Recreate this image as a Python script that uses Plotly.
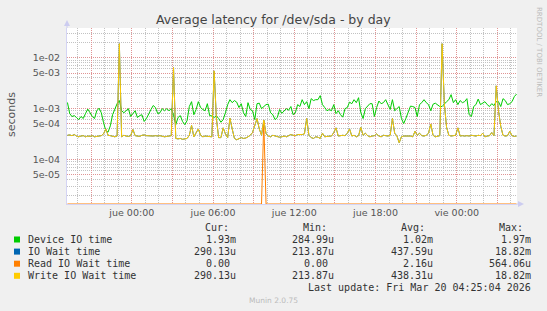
import plotly.graph_objects as go
import pandas as pd

# ---------------- data ----------------
times = pd.date_range("2026-03-18 19:15", periods=200, freq="10min")

device_io = [
    1.32e-3, 8.0e-4, 7.0e-4, 7.3e-4, 6.7e-4, 6.1e-4, 7.0e-4, 6.4e-4, 8.0e-4, 9.8e-4,
    8.3e-4, 7.0e-4, 6.4e-4, 9.1e-4, 1.02e-3, 8.3e-4, 5.3e-4, 3.7e-4, 3.46e-4, 4.6e-4,
    7.6e-4, 1.02e-3, 1.25e-3, 1.44e-3, 9.1e-4, 8.3e-4, 9.1e-4, 1.0e-3, 7.0e-4, 8.0e-4,
    9.1e-4, 6.7e-4, 7.3e-4, 7.6e-4, 5.6e-4, 6.4e-4, 7.6e-4, 9.6e-4, 1.15e-3, 1.05e-3,
    8.0e-4, 8.3e-4, 1.0e-3, 9.1e-4, 1.0e-3, 9.1e-4, 1.0e-3, 7.6e-4, 4.85e-4, 6.7e-4,
    7.3e-4, 5.6e-4, 4.85e-4, 5.8e-4, 1.1e-3, 1.37e-3, 7.6e-4, 9.6e-4, 1.37e-3, 1.05e-3,
    9.6e-4, 9.1e-4, 1.25e-3, 7.3e-4, 7.2e-4, 6.7e-4, 7.2e-4, 6.4e-4, 5.4e-4, 6.1e-4,
    8.3e-4, 1.2e-3, 1.5e-3, 1.31e-3, 1.44e-3, 1.34e-3, 1.05e-3, 1.25e-3, 8.3e-4, 7.0e-4,
    1.31e-3, 9.6e-4, 9.1e-4, 6.1e-4, 1.25e-3, 1.28e-3, 1.0e-3, 1.1e-3, 1.2e-3, 1.22e-3,
    8.3e-4, 7.6e-4, 6.1e-4, 6.7e-4, 9.6e-4, 8.1e-4, 9.1e-4, 1.0e-3, 9.3e-4, 1.1e-3,
    7.6e-4, 8.3e-4, 1.2e-3, 1.1e-3, 1.5e-3, 1.2e-3, 1.37e-3, 1.0e-3, 1.57e-3, 1.44e-3,
    1.5e-3, 1.5e-3, 1.8e-3, 1.2e-3, 1.05e-3, 9.1e-4, 9.6e-4, 9.1e-4, 1.2e-3, 8.0e-4,
    9.1e-4, 7.6e-4, 6.8e-4, 1.0e-3, 1.05e-3, 1.34e-3, 1.25e-3, 1.5e-3, 1.31e-3, 1.64e-3,
    8.3e-4, 6.4e-4, 1.0e-3, 1.1e-3, 1.25e-3, 1.25e-3, 7.0e-4, 1.05e-3, 1.41e-3, 1.25e-3,
    1.31e-3, 1.5e-3, 1.2e-3, 9.6e-4, 1.5e-3, 9.1e-4, 1.0e-3, 1.1e-3, 6.4e-4, 5.1e-4,
    6.5e-4, 8.3e-4, 1.12e-3, 1.1e-3, 1.05e-3, 7.0e-4, 1.2e-3, 1.31e-3, 1.5e-3, 1.31e-3,
    1.2e-3, 9.1e-4, 1.22e-3, 1.28e-3, 1.2e-3, 1.1e-3, 1.1e-3, 1.25e-3, 1.37e-3, 1.5e-3,
    1.88e-3, 1.31e-3, 1.5e-3, 1.2e-3, 1.44e-3, 1.31e-3, 1.37e-3, 1.57e-3, 7.6e-4, 7.0e-4,
    1.1e-3, 1.2e-3, 1.54e-3, 1.2e-3, 1.31e-3, 1.37e-3, 1.2e-3, 1.1e-3, 1.25e-3, 1.15e-3,
    1.37e-3, 1.37e-3, 1.1e-3, 1.57e-3, 1.44e-3, 1.2e-3, 1.25e-3, 1.37e-3, 1.72e-3, 1.93e-3,
]

write_io_wait = [
    3.0e-4, 3.05e-4, 2.95e-4, 3.1e-4, 2.9e-4, 2.8e-4, 2.9e-4, 2.95e-4, 2.8e-4, 2.9e-4,
    2.85e-4, 2.95e-4, 2.8e-4, 2.9e-4, 2.9e-4, 2.95e-4, 3.2e-4, 4.0e-4, 3.0e-4, 2.95e-4,
    2.9e-4, 2.8e-4, 2.9e-4, 1.882e-2, 2.8e-4, 3.0e-4, 2.9e-4, 2.85e-4, 2.95e-4, 3.9e-4,
    2.95e-4, 2.9e-4, 2.85e-4, 3.0e-4, 3.05e-4, 2.95e-4, 2.9e-4, 2.95e-4, 2.9e-4, 2.95e-4,
    2.9e-4, 2.95e-4, 2.85e-4, 2.8e-4, 2.85e-4, 2.9e-4, 2.95e-4, 6.4e-3, 2.6e-4, 2.55e-4,
    2.6e-4, 2.5e-4, 2.55e-4, 2.6e-4, 3.0e-4, 4.7e-4, 2.8e-4, 3.4e-4, 4.0e-4, 3.0e-4,
    2.8e-4, 2.9e-4, 2.85e-4, 2.9e-4, 2.8e-4, 5.5e-3, 6.4e-4, 2.7e-4, 2.7e-4, 4.2e-4,
    3.2e-4, 2.7e-4, 6.5e-4, 4.0e-4, 2.6e-4, 2.45e-4, 2.6e-4, 2.7e-4, 2.6e-4, 2.65e-4,
    2.8e-4, 3.0e-4, 3.4e-4, 4.6e-4, 6.4e-4, 4.0e-4, 3.0e-4, 6.0e-4, 3.2e-4, 2.9e-4,
    2.8e-4, 3.0e-4, 2.9e-4, 2.8e-4, 2.75e-4, 2.8e-4, 2.9e-4, 2.8e-4, 2.9e-4, 3.1e-4,
    3.0e-4, 2.95e-4, 3.1e-4, 3.05e-4, 3.1e-4, 3.2e-4, 6.4e-4, 3.0e-4, 2.7e-4, 2.6e-4,
    2.8e-4, 2.75e-4, 2.6e-4, 3.3e-4, 2.8e-4, 2.85e-4, 2.9e-4, 2.9e-4, 3.4e-4, 4.2e-4,
    2.9e-4, 3.0e-4, 3.0e-4, 2.95e-4, 3.3e-4, 4.0e-4, 2.9e-4, 3.0e-4, 2.8e-4, 2.95e-4,
    4.3e-4, 3.0e-4, 3.3e-4, 2.95e-4, 2.8e-4, 2.9e-4, 2.95e-4, 3.2e-4, 2.9e-4, 2.8e-4,
    3.0e-4, 2.95e-4, 2.9e-4, 3.0e-4, 6.4e-4, 3.3e-4, 2.9e-4, 2.14e-4, 2.8e-4, 2.9e-4,
    2.9e-4, 2.85e-4, 2.9e-4, 2.8e-4, 3.6e-4, 3.0e-4, 3.3e-4, 2.95e-4, 2.9e-4, 3.0e-4,
    3.3e-4, 5.0e-4, 3.0e-4, 2.8e-4, 2.9e-4, 2.95e-4, 1.882e-2, 1.25e-3, 4.3e-4, 3.0e-4,
    2.9e-4, 2.95e-4, 3.0e-4, 4.2e-4, 2.9e-4, 2.95e-4, 2.9e-4, 2.95e-4, 2.9e-4, 3.0e-4,
    2.95e-4, 2.9e-4, 3.0e-4, 2.95e-4, 3.3e-4, 2.8e-4, 2.9e-4, 2.95e-4, 3.4e-4, 2.95e-4,
    2.8e-3, 9.1e-4, 4.5e-4, 3.0e-4, 2.9e-4, 2.95e-4, 3.6e-4, 2.95e-4, 2.85e-4, 2.9013e-4,
]

# IO wait is identical to write wait in the picture (fully hidden below it)
io_wait = list(write_io_wait)

read_io_wait = [
    0, 0, 0, 0, 0, 0, 0, 0, 0, 0, 0, 0, 0, 0, 0, 0, 0, 0, 0, 0,
    0, 0, 0, 0, 0, 0, 0, 0, 0, 0, 0, 0, 0, 0, 0, 0, 0, 0, 0, 0,
    0, 0, 0, 0, 0, 0, 0, 0, 0, 0, 0, 0, 0, 0, 0, 0, 0, 0, 0, 0,
    0, 0, 0, 0, 0, 0, 0, 0, 0, 0, 0, 0, 0, 0, 0, 0, 0, 0, 0, 0,
    0, 0, 0, 0, 0, 0, 0, 5.6406e-4, 0, 0, 0, 0, 0, 0, 0, 0, 0, 0, 0, 0,
    0, 0, 0, 0, 0, 0, 0, 0, 0, 0, 0, 0, 0, 0, 0, 0, 0, 0, 0, 0,
    0, 0, 0, 0, 0, 0, 0, 0, 0, 0, 0, 0, 0, 0, 0, 0, 0, 0, 0, 0,
    0, 0, 0, 0, 0, 0, 0, 0, 0, 0, 0, 0, 0, 0, 0, 0, 0, 0, 0, 0,
    0, 0, 0, 0, 0, 0, 0, 0, 0, 0, 0, 0, 0, 0, 0, 0, 0, 0, 0, 0,
    0, 0, 0, 0, 0, 0, 0, 0, 0, 0, 0, 0, 0, 0, 0, 0, 0, 0, 0, 0,
]

series_names = ["Device IO time", "IO Wait time", "Read IO Wait time", "Write IO Wait time"]
series_colors = ["#00CC00", "#0066B3", "#FF8000", "#FFCC00"]
stat_cur = ["1.93m", "290.13u", "0.00", "290.13u"]
stat_min = ["284.99u", "213.87u", "0.00", "213.87u"]
stat_avg = ["1.02m", "437.59u", "2.16u", "438.31u"]
stat_max = ["1.97m", "18.82m", "564.06u", "18.82m"]

y_tick_vals = [5e-5, 1e-4, 5e-4, 1e-3, 5e-3, 1e-2]
y_tick_text = ["5e-05", "1e-04", "5e-04", "1e-03", "5e-03", "1e-02"]
y_minor_vals = [m * 10.0 ** e for e in (-5, -4, -3, -2) for m in (2, 3, 4, 6, 7, 8, 9)]

x_tick_vals = ["2026-03-18 21:00", "2026-03-19 00:00", "2026-03-19 03:00", "2026-03-19 06:00",
               "2026-03-19 09:00", "2026-03-19 12:00", "2026-03-19 15:00", "2026-03-19 18:00",
               "2026-03-19 21:00", "2026-03-20 00:00", "2026-03-20 03:00"]
x_tick_text = ["", "jue 00:00", "", "jue 06:00", "", "jue 12:00", "", "jue 18:00",
               "", "vie 00:00", ""]

# ---------------- layout geometry ----------------
W, H = 547, 311
L, R, T, B = 67, 30, 28, 107
PW, PH = W - L - R, H - T - B
Y_LO, Y_HI = -4.871, -1.418
FLOOR = 10 ** Y_LO


def px(x):
    return (x - L) / PW


def py(y):
    return (H - B - y) / PH


fig = go.Figure()
all_series = [device_io, io_wait, read_io_wait, write_io_wait]
for name, col, vals in zip(series_names, series_colors, all_series):
    # like rrdtool, values below the log axis are drawn on the axis floor
    yv = [v if v > FLOOR else FLOOR for v in vals]
    fig.add_trace(go.Scatter(x=times, y=yv, mode="lines", name=name,
                             line=dict(color=col, width=1), showlegend=False,
                             cliponaxis=True))

RED = "#E09494"
GRAY = "#C2C2C2"
fig.update_layout(
    width=W, height=H,
    margin=dict(l=L, r=R, t=T, b=B, pad=0),
    paper_bgcolor="#F0F0F0", plot_bgcolor="#FFFFFF",
    font=dict(family="DejaVu Sans", size=10, color="#555555"),
    showlegend=False,
    xaxis=dict(
        type="date",
        range=["2026-03-18 19:13", "2026-03-20 04:27"],
        tickmode="array", tickvals=x_tick_vals, ticktext=x_tick_text,
        showgrid=True, gridcolor=RED, griddash="1px,1px", gridwidth=1,
        ticks="", tickfont=dict(size=9.5, color="#555555"),
        showline=True, linecolor="#D4D4F4", linewidth=1, zeroline=False,
        minor=dict(tick0="2026-03-19 00:00", dtick=3600000, showgrid=True,
                   gridcolor=GRAY, griddash="1px,1px", gridwidth=1),
        fixedrange=True,
    ),
    yaxis=dict(
        type="log", range=[Y_LO, Y_HI],
        tickmode="array", tickvals=y_tick_vals, ticktext=y_tick_text,
        showgrid=True, gridcolor=RED, griddash="1px,1px", gridwidth=1,
        ticks="", tickfont=dict(size=9.5, color="#555555"),
        ticklabelstandoff=4,
        showline=True, linecolor="#D4D4F4", linewidth=1, zeroline=False,
        minor=dict(tickmode="array", tickvals=y_minor_vals, showgrid=True,
                   gridcolor=GRAY, griddash="1px,1px", gridwidth=1),
        fixedrange=True,
    ),
)

ann = []
shapes = []


def text(x, y, s, size=10, color="#333333", family="DejaVu Sans Mono", xanchor="left", angle=0):
    ann.append(dict(x=px(x), y=py(y), xref="paper", yref="paper", text=s, showarrow=False,
                    xanchor=xanchor, yanchor="middle", textangle=angle,
                    font=dict(family=family, size=size, color=color)))


# title
text(W / 2, 19.5, "Average latency for /dev/sda - by day", size=12.5, color="#444444",
     family="DejaVu Sans", xanchor="center")
# y axis title
text(12, 115, "seconds", size=11, color="#555555", family="DejaVu Sans", xanchor="center", angle=-90)
# side credit
text(539, 52, "RRDTOOL / TOBI OETIKER", size=7, color="#BBBBBB", family="DejaVu Sans",
     xanchor="center", angle=90)

# legend table
text(202.5, 227.5, "Cur:")
text(300.5, 227.5, "Min:")
text(399, 227.5, "Avg:")
text(497, 227.5, "Max:")
CH = 6.02
row_y = [239.5, 251.6, 263.7, 275.8]
for i in range(4):
    y = row_y[i]
    shapes.append(dict(type="rect", xref="paper", yref="paper",
                       x0=px(14), x1=px(20), y0=py(y - 3), y1=py(y + 3),
                       fillcolor=series_colors[i], line=dict(width=0)))
    text(26, y, series_names[i])
    for vals, right in ((stat_cur, 238.3), (stat_min, 336), (stat_avg, 434.7), (stat_max, 533)):
        v = vals[i]
        r = right if v[-1].isalpha() else right - CH
        text(r, y, v, xanchor="right")
text(533, 287.8, "Last update: Fri Mar 20 04:25:04 2026", xanchor="right")
text(273, 300, "Munin 2.0.75", size=7.5, color="#BBBBBB", family="DejaVu Sans", xanchor="center")

# axis arrows
AX = "#CCCCF0"
shapes.append(dict(type="line", xref="paper", yref="paper", x0=px(67), x1=px(67),
                   y0=py(28), y1=py(22), line=dict(color=AX, width=1)))
shapes.append(dict(type="path", xref="paper", yref="paper",
                   path=f"M {px(64)} {py(26)} L {px(70)} {py(26)} L {px(67)} {py(20)} Z",
                   fillcolor=AX, line=dict(width=0)))
shapes.append(dict(type="line", xref="paper", yref="paper", x0=px(517), x1=px(520),
                   y0=py(204), y1=py(204), line=dict(color=AX, width=1)))
shapes.append(dict(type="path", xref="paper", yref="paper",
                   path=f"M {px(518)} {py(201)} L {px(518)} {py(207)} L {px(524)} {py(204)} Z",
                   fillcolor=AX, line=dict(width=0)))

fig.update_layout(annotations=ann, shapes=shapes)
fig.write_html("out.html", config=dict(displayModeBar=False, staticPlot=True))
